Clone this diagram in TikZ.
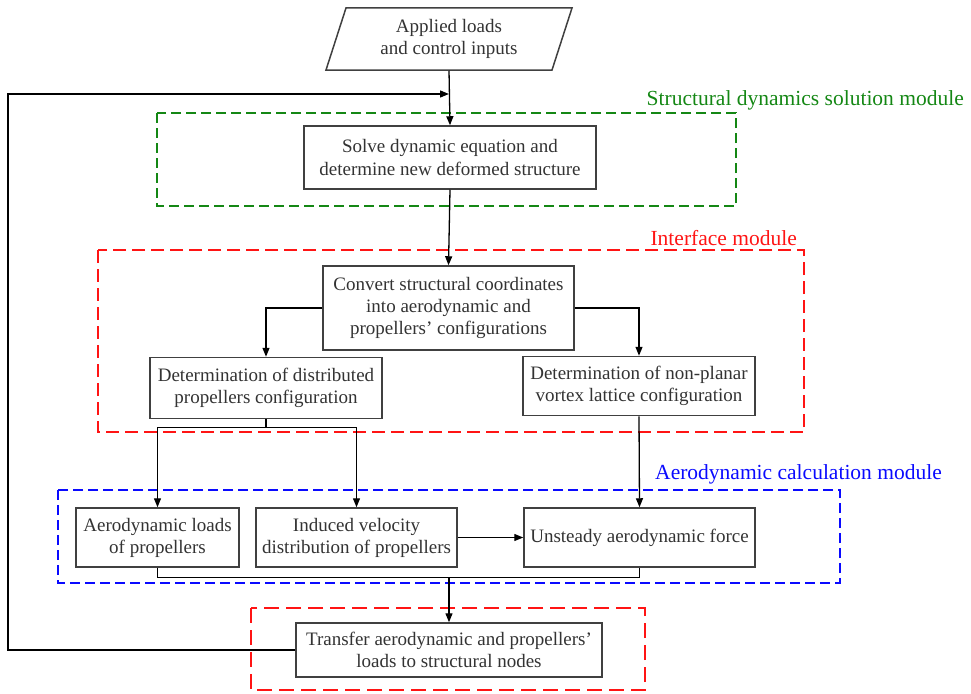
\documentclass[tikz,border=0pt]{standalone}
\usepackage{fontspec}
\setmainfont{Liberation Serif}
\usetikzlibrary{arrows.meta}
\usetikzlibrary{shapes.geometric}

\definecolor{modgreen}{RGB}{20,135,20}
\definecolor{modred}{RGB}{255,20,20}
\definecolor{modblue}{RGB}{10,10,255}

\begin{document}
\begin{tikzpicture}[x=1pt, y=-1pt,
  box/.style={draw=black!75, line width=1.5pt, fill=white, align=center,
    inner sep=0pt, text=black!80, font=\fontsize{19}{22}\selectfont},
  arr/.style={line width=1.3pt, -{Triangle[length=9pt, width=7pt]}},
  link/.style={line width=1.3pt},
  module/.style={line width=1.8pt, dash pattern=on 10pt off 5pt},
  modlabel/.style={anchor=east, inner sep=0pt, font=\fontsize{21.5}{24}\selectfont}]
\useasboundingbox (0,0) rectangle (971,693);

% module frames
\draw [module, modgreen] (157,113) rectangle (736,206);
\node [modlabel, modgreen] (solLabel) at (964,100) {Structural dynamics solution module};
\draw [module, modred, dash pattern=on 13pt off 6pt] (98,250) rectangle (804,432);
\node [modlabel, modred] (intLabel) at (797,238) {Interface module};
\draw [module, modblue] (58,490) rectangle (840,583);
\node [modlabel, modblue] (aeroLabel) at (942,474) {Aerodynamic calculation module};
\draw [module, modred, dash pattern=on 15pt off 7pt] (251,608) rectangle (645,690);

% steps
\node [box, trapezium, trapezium left angle=63, trapezium right angle=117,
       trapezium stretches body, minimum width=246pt, minimum height=62pt]
       (input) at (449,39) {Applied loads\\and control inputs};
\node [box, minimum width=292pt, minimum height=63pt] (solve) at (450,157.5)
      {Solve dynamic equation and\\determine new deformed structure};
\node [box, minimum width=251pt, minimum height=84pt] (convert) at (448.5,308)
      {Convert structural coordinates\\into aerodynamic and\\propellers' configurations};
\node [box, minimum width=232pt, minimum height=61pt] (dist) at (266,388)
      {Determination of distributed\\propellers configuration};
\node [box, minimum width=232pt, minimum height=59pt] (vlm) at (639,386)
      {Determination of non-planar\\vortex lattice configuration};
\node [box, minimum width=163pt, minimum height=59pt] (loads) at (157.5,537.5)
      {Aerodynamic loads\\of propellers};
\node [box, minimum width=201pt, minimum height=59pt] (induced) at (356.5,537.5)
      {Induced velocity\\distribution of propellers};
\node [box, minimum width=231pt, minimum height=59pt] (force) at (639.5,537.5)
      {Unsteady aerodynamic force};
\node [box, minimum width=306pt, minimum height=54pt] (transfer) at (449,650)
      {Transfer aerodynamic and propellers'\\loads to structural nodes};

% connectors
\coordinate (corner) at (8,94);
\coordinate (join) at (449,94);
\draw [arr] (input.south) -- (solve.north);
\draw [arr] (transfer.west) -| (corner) -- (join);
\draw [arr] (solve.south) -- (convert.north);
\draw [arr] (convert.west) -| (dist.north);
\draw [arr] (convert.east) -| (vlm.north);
\draw [link] (dist.south) -- ++(0,8) coordinate (split);
\draw [arr] (split) -| (loads.north);
\draw [arr] (split) -| (induced.north);
\draw [arr] (vlm.south) -- (force.north);
\draw [arr] (induced.east) -- (force.west);
\draw [link] (loads.south) -- ++(0,9.5) coordinate (gather) -| (force.south);
\draw [arr] (gather -| transfer.north) -- (transfer.north);
\end{tikzpicture}
\end{document}
